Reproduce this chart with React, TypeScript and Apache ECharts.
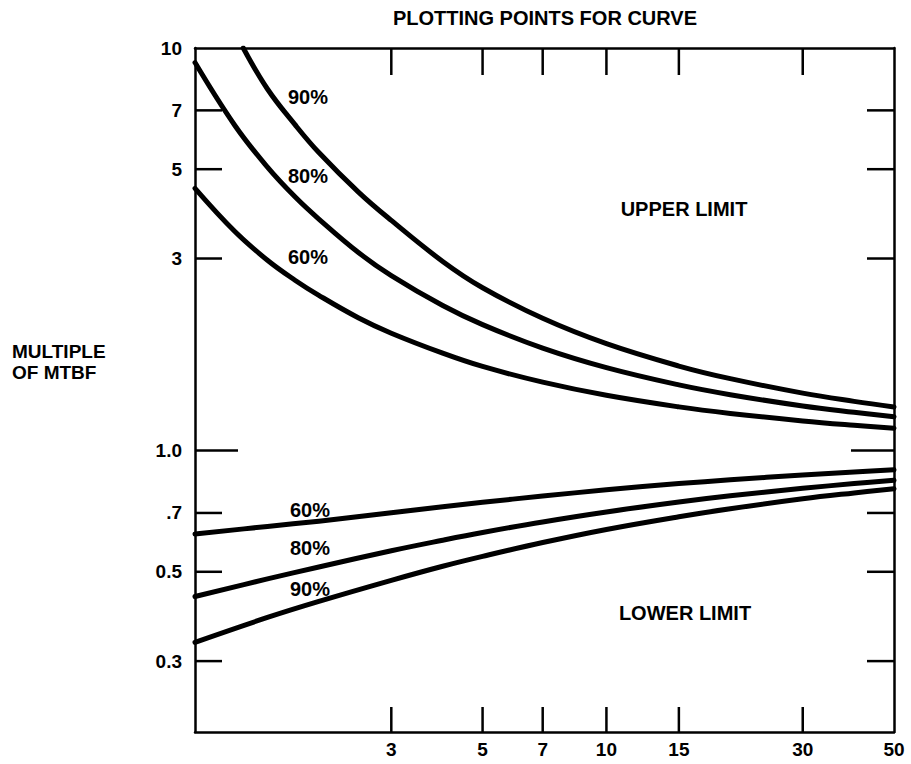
import React, { useEffect, useRef } from "react";
import * as echarts from "echarts";

// Axis ranges
const X_MIN = 1;
const X_MAX = 50;
const Y_MIN = 0.2;
const Y_MAX = 10;

// Tick values and labels
const xTickValues = [3, 5, 7, 10, 15, 30];
const xLabelValues = [3, 5, 7, 10, 15, 30, 50];
const yTickValues = [7, 5, 3, 1, 0.7, 0.5, 0.3];
const yLabelValues = [10, 7, 5, 3, 1, 0.7, 0.5, 0.3];
const yLabelTexts = ["10", "7", "5", "3", "1.0", ".7", "0.5", "0.3"];

// Upper limit curves [failures, multiple of MTBF]
const upper90 = [[1.31, 10], [1.5, 7.91], [1.75, 6.45], [2, 5.5], [2.5, 4.38], [3, 3.73], [4, 2.95], [5, 2.538], [7, 2.131], [10, 1.843], [15, 1.622], [20, 1.509], [30, 1.389], [40, 1.325], [50, 1.283]];
const upper80 = [[1, 9.2], [1.25, 6.42], [1.5, 5.06], [1.75, 4.27], [2, 3.76], [2.5, 3.1], [3, 2.72], [4, 2.292], [5, 2.055], [7, 1.797], [10, 1.607], [15, 1.456], [20, 1.377], [30, 1.291], [40, 1.245], [50, 1.214]];
const upper60 = [[1, 4.48], [1.25, 3.5], [1.5, 2.97], [1.75, 2.65], [2, 2.43], [2.5, 2.135], [3, 1.957], [4, 1.746], [5, 1.618], [7, 1.479], [10, 1.372], [15, 1.284], [20, 1.237], [30, 1.185], [40, 1.156], [50, 1.137]];

// Lower limit curves
const lower60 = [[1, 0.621], [1.5, 0.648], [2, 0.668], [3, 0.701], [4, 0.725], [5, 0.744], [7, 0.771], [10, 0.799], [15, 0.828], [20, 0.846], [30, 0.87], [40, 0.885], [50, 0.896]];
const lower80 = [[1, 0.434], [1.5, 0.48], [2, 0.514], [3, 0.564], [4, 0.599], [5, 0.626], [7, 0.665], [10, 0.704], [15, 0.745], [20, 0.772], [30, 0.806], [40, 0.828], [50, 0.844]];
const lower90 = [[1, 0.334], [1.5, 0.385], [2, 0.422], [3, 0.476], [4, 0.516], [5, 0.546], [7, 0.591], [10, 0.637], [15, 0.685], [20, 0.717], [30, 0.759], [40, 0.785], [50, 0.804]];

const FONT = '"Liberation Sans", Arial, Helvetica, sans-serif';
const INK = "#000";

function curve(data: number[][]) {
  return {
    type: "line",
    xAxisIndex: 0,
    yAxisIndex: 0,
    data,
    showSymbol: false,
    symbol: "none",
    smooth: 0.4,
    clip: true,
    silent: true,
    lineStyle: { color: INK, width: 5, cap: "round", join: "round" },
    z: 3,
  };
}

function txt(text: string, x: number, y: number, align = "center", size = 20) {
  return {
    type: "text",
    x,
    y,
    silent: true,
    style: {
      text,
      fill: INK,
      fontSize: size,
      fontWeight: "bold",
      fontFamily: FONT,
      align,
      verticalAlign: "middle",
      textAlign: align,
      textVerticalAlign: "middle",
    },
  };
}

export default function App() {
  const ref = useRef<HTMLDivElement>(null);

  useEffect(() => {
    if (!ref.current) return;
    const chart = echarts.init(ref.current, undefined, { renderer: "svg" });
    const axisLine = { show: true, onZero: false, lineStyle: { color: INK, width: 2.5 } };
    const hidden = {
      axisTick: { show: false },
      axisLabel: { show: false },
      splitLine: { show: false },
      minorTick: { show: false },
      minorSplitLine: { show: false },
    };
    const tickStyle = { stroke: INK, lineWidth: 2.5 };
    const labelStyle = { fill: INK, fontSize: 19, fontWeight: "bold", fontFamily: FONT };

    chart.setOption({
      animation: false,
      backgroundColor: "#fff",
      grid: { left: 195, right: 17, top: 48, bottom: 32 },
      xAxis: [
        { type: "log", logBase: 10, min: X_MIN, max: X_MAX, position: "bottom", axisLine, ...hidden },
        { type: "log", logBase: 10, min: X_MIN, max: X_MAX, position: "top", axisLine, ...hidden },
      ],
      yAxis: [
        { type: "log", logBase: 10, min: Y_MIN, max: Y_MAX, position: "left", axisLine, ...hidden },
        { type: "log", logBase: 10, min: Y_MIN, max: Y_MAX, position: "right", axisLine, ...hidden },
      ],
      graphic: [
        txt("PLOTTING POINTS FOR CURVE", 545, 18),
        txt("MULTIPLE", 12, 351, "left", 19),
        txt("OF MTBF", 12, 372, "left", 19),
        txt("UPPER LIMIT", 684, 209),
        txt("LOWER LIMIT", 685, 613),
        txt("90%", 308, 97),
        txt("80%", 308, 176),
        txt("60%", 308, 257),
        txt("60%", 310, 510),
        txt("80%", 310, 548),
        txt("90%", 310, 589),
      ],
      series: [
        curve(upper90),
        curve(upper80),
        curve(upper60),
        curve(lower60),
        curve(lower80),
        curve(lower90),
        {
          type: "custom",
          name: "xTicks",
          xAxisIndex: 0,
          yAxisIndex: 0,
          silent: true,
          z: 5,
          data: xTickValues.map((v) => [v, Y_MIN]),
          renderItem: (params: any, api: any) => {
            const v = api.value(0);
            const b = api.coord([v, Y_MIN]);
            const t = api.coord([v, Y_MAX]);
            return {
              type: "group",
              children: [
                { type: "line", shape: { x1: b[0], y1: b[1], x2: b[0], y2: b[1] - 25 }, style: tickStyle },
                { type: "line", shape: { x1: t[0], y1: t[1], x2: t[0], y2: t[1] + 27 }, style: tickStyle },
              ],
            };
          },
        },
        {
          type: "custom",
          name: "yTicks",
          xAxisIndex: 0,
          yAxisIndex: 0,
          silent: true,
          z: 5,
          data: yTickValues.map((v) => [X_MIN, v]),
          renderItem: (params: any, api: any) => {
            const v = api.value(1);
            const l = api.coord([X_MIN, v]);
            const r = api.coord([X_MAX, v]);
            const len = v === 1 ? 43 : 27;
            return {
              type: "group",
              children: [
                { type: "line", shape: { x1: l[0], y1: l[1], x2: l[0] + len, y2: l[1] }, style: tickStyle },
                { type: "line", shape: { x1: r[0], y1: r[1], x2: r[0] - len, y2: r[1] }, style: tickStyle },
              ],
            };
          },
        },
        {
          type: "custom",
          name: "xLabels",
          xAxisIndex: 0,
          yAxisIndex: 0,
          silent: true,
          z: 5,
          data: xLabelValues.map((v) => [v, Y_MIN]),
          renderItem: (params: any, api: any) => {
            const v = api.value(0);
            const b = api.coord([v, Y_MIN]);
            return {
              type: "text",
              x: b[0],
              y: b[1] + 17,
              style: { ...labelStyle, text: String(xLabelValues[params.dataIndex]), align: "center", verticalAlign: "middle" },
            };
          },
        },
        {
          type: "custom",
          name: "yLabels",
          xAxisIndex: 0,
          yAxisIndex: 0,
          silent: true,
          z: 5,
          data: yLabelValues.map((v) => [X_MIN, v]),
          renderItem: (params: any, api: any) => {
            const v = api.value(1);
            const l = api.coord([X_MIN, v]);
            return {
              type: "text",
              x: l[0] - 13,
              y: l[1],
              style: { ...labelStyle, text: yLabelTexts[params.dataIndex], align: "right", verticalAlign: "middle" },
            };
          },
        },
      ],
    });
    return () => chart.dispose();
  }, []);

  return (
    <div
      ref={ref}
      style={{ position: "absolute", left: 0, top: 0, width: 911, height: 764, background: "#fff" }}
    />
  );
}
